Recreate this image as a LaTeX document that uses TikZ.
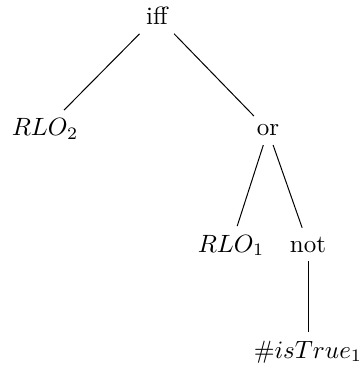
\documentclass[tikz,border=0pt]{standalone}
\begin{document}
\begin{tikzpicture}[x=0.4pt,y=-0.4pt, tn/.style={anchor=base}, edge/.style={draw, line width=0.4pt}]
\useasboundingbox (0,0) rectangle (364,372);
\node[tn] (iff) at (157,25) {iff};
\node[tn] (rlo2) at (45,136) {$RLO_2$};
\node[tn] (or) at (268,136) {or};
\node[tn] (rlo1) at (231,252) {$RLO_1$};
\node[tn] (not) at (308,252) {not};
\node[tn] (ist) at (308,358) {$\#isTrue_1$};
\draw[edge] (iff) -- (rlo2);
\draw[edge] (iff) -- (or);
\draw[edge] (or) -- (rlo1);
\draw[edge] (or) -- (not);
\draw[edge] (not) -- (ist);
\end{tikzpicture}
\end{document}
